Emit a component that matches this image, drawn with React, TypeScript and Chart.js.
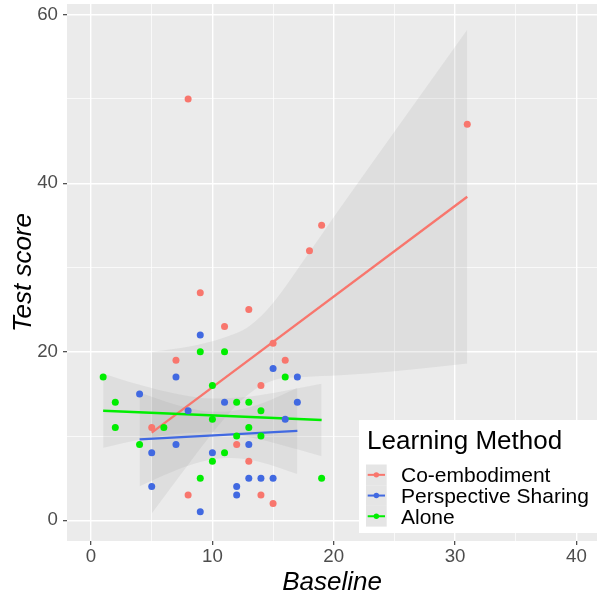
import React, { useEffect, useRef } from 'react';
import { Chart, registerables } from 'chart.js';

Chart.register(...registerables);

// ---------- data ----------
const seriesNames = ['Co-embodiment', 'Perspective Sharing', 'Alone'];
const seriesColors = ['#F8766D', '#4169E1', '#00EE00'];

const coX = [8, 31, 19, 18, 9, 13, 11, 15, 7, 16, 14, 5, 12, 13, 8, 14, 15];
const coY = [50, 47, 35, 32, 27, 25, 23, 21, 19, 19, 16, 11, 9, 7, 3, 3, 2];
const psX = [9, 15, 7, 17, 4, 11, 17, 8, 16, 7, 13, 5, 10, 13, 14, 15, 5, 12, 12, 9];
const psY = [22, 18, 17, 17, 15, 14, 14, 13, 12, 9, 9, 8, 8, 5, 5, 5, 4, 4, 3, 1];
const alX = [9, 11, 1, 16, 10, 2, 12, 13, 14, 10, 2, 6, 13, 12, 14, 4, 11, 10, 9, 19];
const alY = [20, 20, 17, 17, 16, 14, 14, 14, 13, 12, 11, 11, 11, 10, 10, 9, 8, 7, 5, 5];

// fitted lines (end points) and confidence bands
const coLineX = [5, 31];
const coLineY = [10.4, 38.4];
const psLineX = [4, 17];
const psLineY = [9.6, 10.6];
const alLineX = [1, 19];
const alLineY = [13.0, 11.9];

const coBandX = [5, 8, 11, 13, 15, 17.5, 20.5, 25, 31];
const coUpper = [20.0, 20.6, 21.7, 23.0, 25.8, 30.8, 37.0, 46.1, 58.2];
const coLower = [0.8, 6.6, 12.1, 15.0, 16.6, 17.0, 17.2, 17.7, 18.6];
const psBandX = [4, 6, 8, 10, 11, 12, 14, 17];
const psUpper = [15.15, 14.15, 13.33, 12.89, 12.89, 13.05, 13.84, 15.7];
const psLower = [4.05, 5.35, 6.47, 7.23, 7.39, 7.35, 6.9, 5.5];
const alBandX = [1, 4, 7, 10, 13, 16, 19];
const alUpper = [17.4, 16.09, 15.02, 14.45, 14.66, 15.36, 16.2];
const alLower = [8.6, 9.55, 10.24, 10.45, 9.88, 8.82, 7.6];

const xMajor = [0, 10, 20, 30, 40];
const xMinor = [5, 15, 25, 35];
const yMajor = [0, 20, 40, 60];
const yMinor = [10, 30, 50];

const legendTitle = 'Learning Method';
const xTitle = 'Baseline';
const yTitle = 'Test score';

const FONT = '"Liberation Sans", Arial, sans-serif';
const BAND_FILL = 'rgba(153,153,153,0.16)';

const pts = (xs: number[], ys: number[]) => xs.map((x, i) => ({ x, y: ys[i] }));

const panelBg = {
  id: 'panelBg',
  beforeDraw(chart: any) {
    const { ctx, chartArea } = chart;
    ctx.save();
    ctx.fillStyle = '#EBEBEB';
    ctx.fillRect(chartArea.left, chartArea.top, chartArea.right - chartArea.left, chartArea.bottom - chartArea.top);
    ctx.restore();
  },
};

const ggLegend = {
  id: 'ggLegend',
  afterDraw(chart: any) {
    const { ctx, chartArea } = chart;
    const right = chartArea.right;
    const left = right - 238;
    const top = 420;
    const bottom = 533;
    ctx.save();
    ctx.fillStyle = '#FFFFFF';
    ctx.fillRect(left, top, right - left, bottom - top);
    ctx.fillStyle = '#000000';
    ctx.font = `26px ${FONT}`;
    ctx.textBaseline = 'alphabetic';
    ctx.textAlign = 'left';
    ctx.fillText(legendTitle, left + 8, 449);
    const keyX = left + 7;
    const keySize = 20.7;
    const key0 = 464.5;
    seriesNames.forEach((name, i) => {
      const y0 = key0 + i * keySize;
      const cy = y0 + keySize / 2;
      ctx.fillStyle = '#E5E5E5';
      ctx.fillRect(keyX, y0, keySize, keySize);
      ctx.strokeStyle = seriesColors[i];
      ctx.lineWidth = 2;
      ctx.beginPath();
      ctx.moveTo(keyX + 1.7, cy);
      ctx.lineTo(keyX + keySize - 1.7, cy);
      ctx.stroke();
      ctx.fillStyle = seriesColors[i];
      ctx.beginPath();
      ctx.arc(keyX + keySize / 2, cy, 2.7, 0, Math.PI * 2);
      ctx.fill();
      ctx.fillStyle = '#000000';
      ctx.font = `21px ${FONT}`;
      ctx.fillText(name, left + 42, cy + 7.6);
    });
    ctx.restore();
  },
};

export default function App() {
  const ref = useRef<HTMLCanvasElement | null>(null);

  useEffect(() => {
    if (!ref.current) return;
    const groups = [
      { px: coX, py: coY, lx: coLineX, ly: coLineY, bx: coBandX, bu: coUpper, bl: coLower },
      { px: psX, py: psY, lx: psLineX, ly: psLineY, bx: psBandX, bu: psUpper, bl: psLower },
      { px: alX, py: alY, lx: alLineX, ly: alLineY, bx: alBandX, bu: alUpper, bl: alLower },
    ];
    const datasets: any[] = [];
    groups.forEach((g, i) => {
      datasets.push({
        type: 'line',
        label: seriesNames[i] + ' lower',
        data: pts(g.bx, g.bl),
        borderWidth: 0,
        borderColor: 'rgba(0,0,0,0)',
        pointRadius: 0,
        fill: false,
        cubicInterpolationMode: 'monotone',
        order: 40 - i,
      });
      datasets.push({
        type: 'line',
        label: seriesNames[i] + ' upper',
        data: pts(g.bx, g.bu),
        borderWidth: 0,
        borderColor: 'rgba(0,0,0,0)',
        backgroundColor: BAND_FILL,
        pointRadius: 0,
        fill: '-1',
        cubicInterpolationMode: 'monotone',
        order: 30 - i,
      });
    });
    groups.forEach((g, i) => {
      datasets.push({
        type: 'line',
        label: seriesNames[i] + ' fit',
        data: pts(g.lx, g.ly),
        borderColor: seriesColors[i],
        borderWidth: 2.3,
        pointRadius: 0,
        fill: false,
        order: 20 - i,
      });
    });
    groups.forEach((g, i) => {
      datasets.push({
        type: 'scatter',
        label: seriesNames[i],
        data: pts(g.px, g.py),
        backgroundColor: seriesColors[i],
        borderWidth: 0,
        pointRadius: 3.5,
        order: 10 - i,
      });
    });

    const isMajorX = (v: number) => xMajor.includes(v);
    const isMajorY = (v: number) => yMajor.includes(v);

    const chart = new Chart(ref.current, {
      type: 'scatter',
      data: { datasets },
      plugins: [panelBg, ggLegend],
      options: {
        responsive: false,
        animation: false,
        devicePixelRatio: 1,
        events: [],
        layout: { padding: { top: 4, right: 0, left: 0, bottom: 0 }, autoPadding: false },
        plugins: {
          legend: { display: false },
          tooltip: { enabled: false },
        },
        scales: {
          x: {
            type: 'linear',
            min: -1.98,
            max: 41.69,
            afterBuildTicks: (s: any) => {
              s.ticks = [...xMajor, ...xMinor].sort((a, b) => a - b).map((v) => ({ value: v }));
            },
            afterFit: (s: any) => {
              s.height = 57;
              s.paddingLeft = 0;
              s.paddingRight = 0;
              s.paddingTop = 0;
              s.paddingBottom = 0;
            },
            border: { display: false },
            grid: {
              color: '#FFFFFF',
              lineWidth: (c: any) => (isMajorX(c.tick?.value) ? 1.4 : 0.7),
              tickLength: 4,
              tickWidth: 1.1,
              tickColor: (c: any) => (isMajorX(c.tick?.value) ? '#333333' : 'rgba(0,0,0,0)'),
            },
            ticks: {
              autoSkip: false,
              maxRotation: 0,
              color: '#4D4D4D',
              padding: 1,
              font: { family: FONT, size: 18.7 },
              callback: (v: any) => (isMajorX(v) ? String(v) : ''),
            },
            title: {
              display: true,
              text: xTitle,
              color: '#000000',
              font: { family: FONT, size: 26, style: 'italic' },
              padding: { top: 7, bottom: 0 },
            },
          },
          y: {
            type: 'linear',
            min: -2.46,
            max: 61.27,
            afterBuildTicks: (s: any) => {
              s.ticks = [...yMajor, ...yMinor].sort((a, b) => a - b).map((v) => ({ value: v }));
            },
            afterFit: (s: any) => {
              s.width = 67;
              s.paddingLeft = 0;
              s.paddingRight = 0;
              s.paddingTop = 0;
              s.paddingBottom = 0;
            },
            border: { display: false },
            grid: {
              color: '#FFFFFF',
              lineWidth: (c: any) => (isMajorY(c.tick?.value) ? 1.4 : 0.7),
              tickLength: 4,
              tickWidth: 1.1,
              tickColor: (c: any) => (isMajorY(c.tick?.value) ? '#333333' : 'rgba(0,0,0,0)'),
            },
            ticks: {
              autoSkip: false,
              color: '#4D4D4D',
              padding: 5,
              font: { family: FONT, size: 18.7 },
              callback: (v: any) => (isMajorY(v) ? String(v) : ''),
            },
            title: {
              display: true,
              text: yTitle,
              color: '#000000',
              font: { family: FONT, size: 26, style: 'italic' },
              padding: { top: 8, bottom: 0 },
            },
          },
        },
      } as any,
    });
    return () => chart.destroy();
  }, []);

  return (
    <div style={{ position: 'absolute', left: 0, top: 0, width: 597, height: 598, background: '#FFFFFF' }}>
      <canvas ref={ref} width={597} height={598} style={{ display: 'block', width: 597, height: 598 }} />
    </div>
  );
}
